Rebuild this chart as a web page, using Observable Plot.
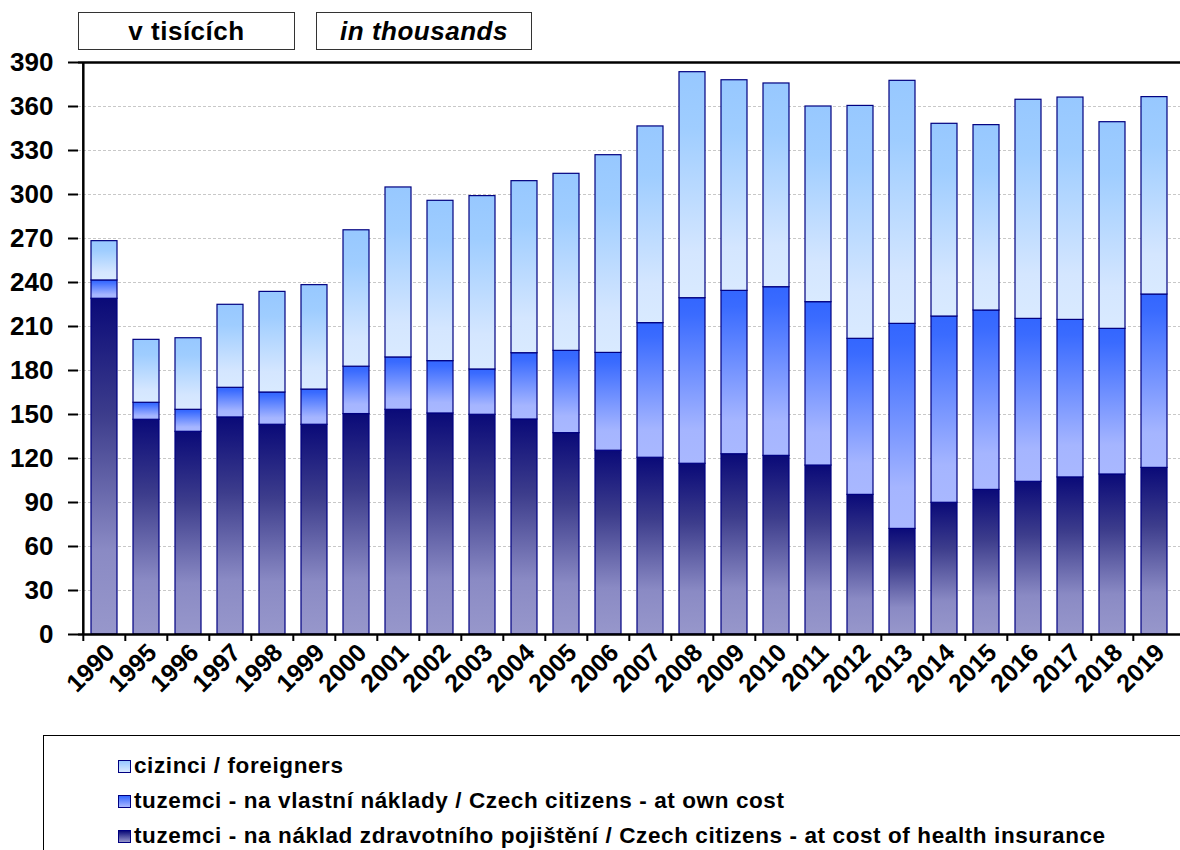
<!DOCTYPE html>
<html>
<head>
<meta charset="utf-8">
<script src="https://cdn.jsdelivr.net/npm/d3@7"></script>
<script src="https://cdn.jsdelivr.net/npm/@observablehq/plot@0.6"></script>
<style>
  body { margin: 0; background: #fff; font-family: "Liberation Sans", Arial, sans-serif; }
  #wrap { position: relative; width: 1180px; height: 850px; overflow: hidden; }
  #chart { position: absolute; left: 0; top: 0; }
  .unit { position: absolute; top: 12px; height: 38px; border: 1px solid #333; box-sizing: border-box;
          font-weight: bold; font-size: 26px; letter-spacing: 0.5px; display: flex; align-items: center; justify-content: center; }
  #legend { position: absolute; left: 43px; top: 735px; width: 1160px; height: 140px;
            border: 1px solid #000; box-sizing: border-box; }
  .item { position: absolute; left: 74px; height: 24px; display: flex; align-items: center;
          font-weight: bold; font-size: 22.5px; letter-spacing: 0.6px; white-space: nowrap; }
  .sw { width: 11px; height: 11px; border: 1px solid #000080; margin-right: 3px; box-sizing: content-box; }
  svg text { font-family: "Liberation Sans", Arial, sans-serif; font-weight: bold; fill: #000; }
</style>
</head>
<body>
<div id="wrap">
  <div id="chart"></div>
  <div class="unit" style="left:78px;width:217px;">v tisících</div>
  <div class="unit" style="left:316px;width:216px;font-style:italic;">in thousands</div>
  <div id="legend"></div>
</div>
<script>
// ---- data (thousands) ----
const years = ["1990","1995","1996","1997","1998","1999","2000","2001","2002","2003","2004","2005","2006",
               "2007","2008","2009","2010","2011","2012","2013","2014","2015","2016","2017","2018","2019"];
const seriesNames = [
  "tuzemci - na náklad zdravotního pojištění / Czech citizens - at cost of health insurance",
  "tuzemci - na vlastní náklady / Czech citizens - at own cost",
  "cizinci / foreigners"
];
const healthInsurance = [228.9,146.4,138.2,148.0,143.0,143.0,150.3,153.2,150.7,149.8,146.6,137.3,125.3,
                         120.5,116.4,122.9,121.8,115.2,95.2,72.0,89.8,98.6,104.1,107.1,109.1,113.6];
const ownCost = [12.5,11.6,15.0,20.2,22.0,24.0,32.3,35.7,35.7,30.9,45.2,56.1,66.7,
                 91.8,112.9,111.4,115.0,111.4,106.4,139.8,127.0,122.3,111.1,107.4,99.3,118.2];
const foreigners = [26.8,42.9,48.8,56.6,68.6,71.2,93.0,115.9,109.3,118.2,117.3,120.7,134.8,
                    134.1,154.1,143.6,138.9,133.4,158.8,165.7,131.4,126.4,149.4,151.6,140.9,134.6];
const yTicks = [0,30,60,90,120,150,180,210,240,270,300,330,360,390];
const gridTicks = [30,60,90,120,150,180,210,240,270,300,330,360];

const seriesValues = [healthInsurance, ownCost, foreigners];
const data = years.flatMap((year, i) =>
  seriesNames.map((s, k) => ({year, series: s, value: seriesValues[k][i]})));

const gradIds = ["gHealth", "gOwn", "gForeign"];

// ---- layout ----
const W = 1180, H = 720, mL = 78, mR = 0, mT = 62, mB = 86;
const step = (W - mL - mR) / years.length;
const font = "'Liberation Sans', Arial, sans-serif";

const chart = Plot.plot({
  width: W, height: H,
  marginLeft: mL, marginRight: mR, marginTop: mT, marginBottom: mB,
  style: {fontFamily: font, overflow: "visible", background: "transparent", color: "#000"},
  x: {domain: years, paddingInner: 0.375, paddingOuter: 0.1875, axis: null, label: null},
  y: {domain: [0, 390], axis: null, label: null},
  color: {domain: seriesNames, range: gradIds.map(id => `url(#${id})`)},
  marks: [
    Plot.ruleY(gridTicks, {stroke: "#c8c8c8", strokeDasharray: "3,2", strokeWidth: 1}),
    Plot.barY(data, Plot.stackY({x: "year", y: "value", fill: "series", order: seriesNames,
                                 stroke: "#000080", strokeWidth: 1.2})),
    Plot.ruleY([390], {stroke: "#000", strokeWidth: 2.5}),
    Plot.ruleY([0], {stroke: "#000", strokeWidth: 2.5}),
    Plot.ruleX([years[0]], {y1: 0, y2: 390, dx: -step / 2, stroke: "#000", strokeWidth: 2.5}),
    Plot.axisY({ticks: yTicks, tickSize: 10, tickPadding: 15, strokeWidth: 2, stroke: "#000",
                fontSize: 26, fontWeight: "bold", fill: "#000", label: null}),
    Plot.axisX({tickSize: 7, tickFormat: () => "", dx: -step / 2, strokeWidth: 2, stroke: "#000", label: null}),
    Plot.axisX({tickSize: 0, tickRotate: -45, tickPadding: 14, dx: 6,
                fontSize: 25, fontWeight: "bold", fill: "#000", label: null})
  ]
});

const defs = d3.select(chart).insert("defs", ":first-child");
function grad(id, stops) {
  const g = defs.append("linearGradient").attr("id", id)
    .attr("x1", 0).attr("y1", 0).attr("x2", 0).attr("y2", 1);
  stops.forEach(([o, c]) => g.append("stop").attr("offset", o).attr("stop-color", c));
}
grad("gForeign", [[0, "#97c8ff"], [0.25, "#9fcdff"], [0.8, "#d4e6ff"], [1, "#d9eaff"]]);
grad("gOwn", [[0, "#3366ff"], [0.1, "#3a6bff"], [0.8, "#a5b5ff"], [1, "#a9b8ff"]]);
grad("gHealth", [[0, "#0a0a78"], [0.35, "#3d3d8c"], [0.75, "#8a8ac4"], [1, "#9797cb"]]);

document.getElementById("chart").appendChild(chart);

// ---- legend ----
const swatchCss = {
  gForeign: "linear-gradient(#97c8ff, #d9eaff)",
  gOwn: "linear-gradient(#3366ff, #a9b8ff)",
  gHealth: "linear-gradient(#0a0a78, #9797cb)"
};
const legendOrder = [2, 1, 0];
const legend = document.getElementById("legend");
legendOrder.forEach((k, r) => {
  const item = document.createElement("div");
  item.className = "item";
  item.style.top = (18 + r * 35) + "px";
  const sw = document.createElement("div");
  sw.className = "sw";
  sw.style.background = swatchCss[gradIds[k]];
  const t = document.createElement("span");
  t.textContent = seriesNames[k];
  item.appendChild(sw);
  item.appendChild(t);
  legend.appendChild(item);
});
</script>
</body>
</html>
